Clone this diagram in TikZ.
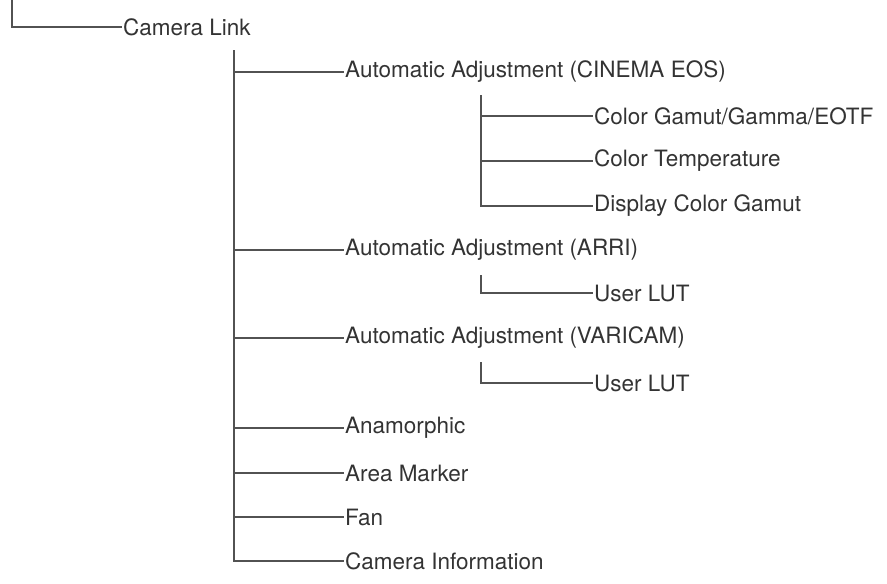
\documentclass[tikz,border=0pt]{standalone}
\usepackage{fontspec}
\setmainfont{TeX Gyre Heros}
\definecolor{ink}{HTML}{333333}
\tikzset{
  item/.style={anchor=west,inner sep=1pt,text=ink,font=\fontsize{22.5}{26}\selectfont},
  branch/.style={draw=ink!85,line width=1.2pt}
}
\begin{document}
\begin{tikzpicture}[x=1pt,y=-1pt]
\useasboundingbox (0,0) rectangle (887,584);
% Wurzel
\coordinate (top) at (12,0);
\node[item] (link) at (122,27) {Camera Link};
\draw[branch] (top) |- (link.west);

% erste Ebene
\coordinate (l1) at (234,50);
\node[item] (cinema) at (344,72) {Automatic Adjustment (CINEMA EOS)};
\node[item] (arri) at (344,250) {Automatic Adjustment (ARRI)};
\node[item] (varicam) at (344,338) {Automatic Adjustment (VARICAM)};
\node[item] (anamorph) at (344,428) {Anamorphic};
\node[item] (area) at (344,473) {Area Marker};
\node[item] (fan) at (344,517) {Fan};
\node[item] (caminfo) at (344,561) {Camera Information};
\draw[branch] (l1) |- (caminfo.west);
\foreach \n in {cinema,arri,varicam,anamorph,area,fan}
  \draw[branch] (\n.west -| l1) -- (\n.west);

% zweite Ebene
\coordinate (l2) at (481,95);
\node[item] (gamut) at (593,116) {Color Gamut/Gamma/EOTF};
\node[item] (temp) at (593,161) {Color Temperature};
\node[item] (disp) at (593,206) {Display Color Gamut};
\draw[branch] (l2) |- (disp.west);
\foreach \n in {gamut,temp}
  \draw[branch] (\n.west -| l2) -- (\n.west);

\coordinate (a2) at (481,275);
\node[item] (lutarri) at (593,293) {User LUT};
\draw[branch] (a2) |- (lutarri.west);
\coordinate (v2) at (481,362);
\node[item] (lutvari) at (593,383) {User LUT};
\draw[branch] (v2) |- (lutvari.west);
\end{tikzpicture}
\end{document}
